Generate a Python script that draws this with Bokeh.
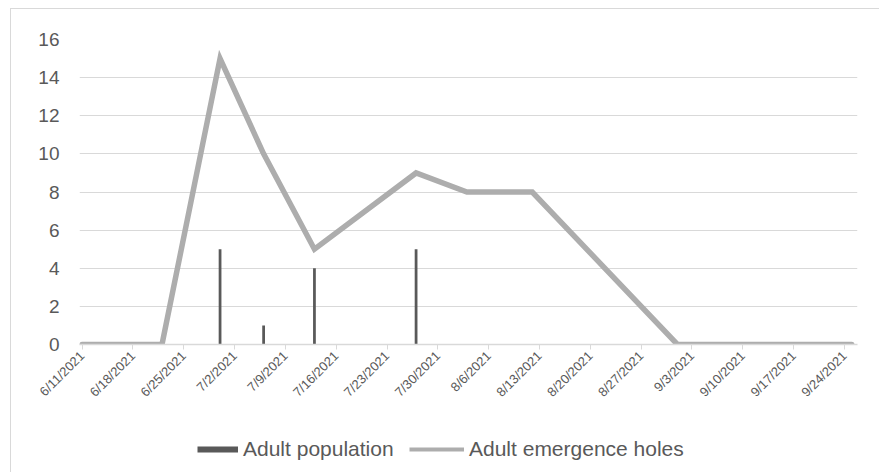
import pandas as pd
from bokeh.plotting import figure
from bokeh.layouts import column
from bokeh.models import Range1d, FixedTicker, Legend, LegendItem, ColumnDataSource
from bokeh.embed import file_html
from bokeh.resources import INLINE

# ---- data ----
line_dates = ["2021-06-11", "2021-06-22", "2021-06-30", "2021-07-06", "2021-07-13",
              "2021-07-27", "2021-08-03", "2021-08-12", "2021-09-01", "2021-09-25"]
emergence_holes = [0, 0, 15, 10, 5, 9, 8, 8, 0, 0]

bar_dates = ["2021-06-30", "2021-07-06", "2021-07-13", "2021-07-27"]
adult_population = [5, 1, 4, 5]

tick_dates = ["2021-06-11", "2021-06-18", "2021-06-25", "2021-07-02", "2021-07-09",
              "2021-07-16", "2021-07-23", "2021-07-30", "2021-08-06", "2021-08-13",
              "2021-08-20", "2021-08-27", "2021-09-03", "2021-09-10", "2021-09-17",
              "2021-09-24"]
tick_labels = ["6/11/2021", "6/18/2021", "6/25/2021", "7/2/2021", "7/9/2021",
               "7/16/2021", "7/23/2021", "7/30/2021", "8/6/2021", "8/13/2021",
               "8/20/2021", "8/27/2021", "9/3/2021", "9/10/2021", "9/17/2021",
               "9/24/2021"]

y_ticks = [0, 2, 4, 6, 8, 10, 12, 14, 16]

series_names = ["Adult population", "Adult emergence holes"]

DAY = 86400000.0


def ms(d):
    return pd.Timestamp(d).value / 1e6


line_src = ColumnDataSource(dict(x=[ms(d) for d in line_dates], y=emergence_holes))
bar_src = ColumnDataSource(dict(x=[ms(d) for d in bar_dates], top=adult_population))

TEXT = "#595959"
GRID = "#D9D9D9"
BAR = "#595959"
LINE = "#ADADAD"
FONT = "Liberation Sans"

# outer offsets (chart border at x=10, y=8)
OX, OY = 10, 8
W = 879 - OX
H1 = 423 - OY
H2 = 472 - 423
FRAME_L, FRAME_R, FRAME_T, FRAME_B = 78 - OX, 856 - OX, 38 - OY, 343 - OY

p = figure(width=W, height=H1, output_backend="svg", toolbar_location=None,
           x_axis_type="datetime",
           x_range=Range1d(ms(line_dates[0]) - 0.36 * DAY, ms(line_dates[-1]) + 0.8 * DAY),
           y_range=Range1d(0, 16),
           min_border_left=FRAME_L, min_border_right=W - FRAME_R,
           min_border_top=FRAME_T, min_border_bottom=H1 - FRAME_B)
p.outline_line_color = None
p.background_fill_color = "white"
p.border_fill_color = "white"

# grid
p.xgrid.visible = False
p.ygrid.grid_line_color = GRID
p.ygrid.grid_line_width = 1
p.yaxis.ticker = FixedTicker(ticks=y_ticks)

# y axis
p.yaxis.axis_line_color = None
p.yaxis.major_tick_line_color = None
p.yaxis.minor_tick_line_color = None
p.yaxis.major_tick_out = 0
p.yaxis.major_tick_in = 0
p.yaxis.major_label_standoff = 20
p.yaxis.major_label_text_color = TEXT
p.yaxis.major_label_text_font = FONT
p.yaxis.major_label_text_font_size = "19px"

# x axis
xt = [ms(d) for d in tick_dates]
p.xaxis.ticker = FixedTicker(ticks=xt)
p.xaxis.major_label_overrides = {t: lab for t, lab in zip(xt, tick_labels)}
p.xaxis.major_label_orientation = 3.14159265 / 4
p.xaxis.axis_line_color = GRID
p.xaxis.axis_line_width = 1.5
p.xaxis.major_tick_line_color = GRID
p.xaxis.major_tick_out = 5
p.xaxis.major_tick_in = 0
p.xaxis.minor_tick_line_color = None
p.xaxis.major_label_standoff = 4
p.xaxis.major_label_text_color = TEXT
p.xaxis.major_label_text_font = FONT
p.xaxis.major_label_text_font_size = "13px"

# bars
p.vbar(x="x", top="top", width=0.38 * DAY, bottom=0, source=bar_src,
       fill_color=BAR, line_color=None)

# line
p.line(x="x", y="y", source=line_src, line_color=LINE, line_width=5.5,
       line_cap="round", line_join="miter")

# ---- legend strip ----
q = figure(width=W, height=H2, output_backend="svg", toolbar_location=None,
           x_range=Range1d(0, 1), y_range=Range1d(0, 1),
           x_axis_location=None, y_axis_location=None, min_border=0)
q.outline_line_color = None
q.grid.visible = False
q.background_fill_color = "white"
q.border_fill_color = "white"

# off-range single points: only used to draw the legend swatches
dummy_src = ColumnDataSource(dict(x=[5.0], y=[5.0]))
bar_leg = q.line(x="x", y="y", source=dummy_src, line_color=BAR, line_width=6, line_cap="butt")
line_leg = q.line(x="x", y="y", source=dummy_src, line_color=LINE, line_width=4, line_cap="butt")

LEG_CY = 449.5 - 423
leg_bottom = H2 - (LEG_CY + 10)


def make_legend(label, rend, x_canvas, gw):
    lg = Legend(items=[LegendItem(label=label, renderers=[rend])],
                location=(x_canvas - 78, leg_bottom),
                orientation="horizontal", padding=0, margin=0, spacing=0,
                glyph_width=gw, glyph_height=20, label_height=20,
                label_standoff=5, border_line_color=None,
                background_fill_alpha=0,
                label_text_font=FONT, label_text_font_size="21px",
                label_text_color=TEXT)
    q.add_layout(lg, "center")


make_legend(series_names[0], bar_leg, 196, 41)
make_legend(series_names[1], line_leg, 408, 55)

root = column(p, q, spacing=0, margin=(OY, 0, 0, OX),
              styles={"border-top": "1px solid #D9D9D9", "border-left": "1px solid #D9D9D9"})

open("out.html", "w").write(file_html(root, INLINE))
